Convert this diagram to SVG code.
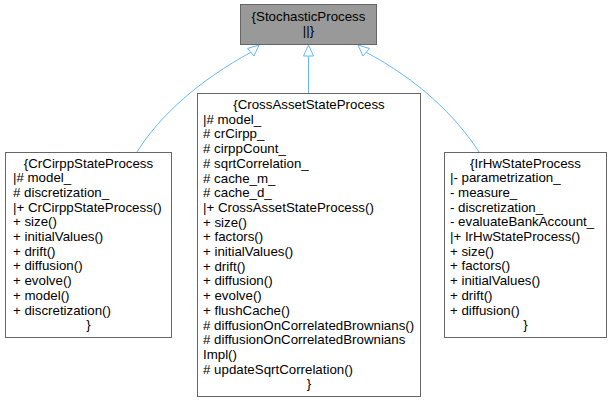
<svg xmlns="http://www.w3.org/2000/svg" width="613" height="403" viewBox="0 0 613 403">
<style>
.box{fill:#ffffff;stroke:#666666;stroke-width:1}
.base{fill:#999999;stroke:#666666;stroke-width:1}
text{font-family:"Liberation Sans",Arial,sans-serif;font-size:13.3px;fill:#000000}
.c{text-anchor:middle}
.edge{fill:none;stroke:#63b8ff;stroke-width:1}
.head{fill:#ffffff;stroke:#63b8ff;stroke-width:1}
</style>
<rect width="613" height="403" fill="#ffffff"/>
<g id="connectors">
<path class="edge" d="M137,152 C160,115 200,80 250.8,52.3"/>
<polygon class="head" points="259,45 254,56 247.5,48.5"/>
<path class="edge" d="M308.5,93 L308.5,56"/>
<polygon class="head" points="308.5,45 303.5,56 313.5,56"/>
<path class="edge" d="M479,152 C455,115 418,80 366.2,52.3"/>
<polygon class="head" points="358,45 369.5,48.5 363,56"/>
</g>
<g id="StochasticProcess">
<rect class="base" x="240.5" y="4.5" width="136" height="40"/>
<text class="c" x="308.5" y="20.5">{StochasticProcess</text>
<text class="c" x="308.5" y="35">||}</text>
</g>
<g id="CrCirppStateProcess">
<rect class="box" x="5.5" y="152.5" width="166" height="185"/>
<text class="c" x="88.5" y="167.5">{CrCirppStateProcess</text>
<text x="13" y="182.2">|# model_</text>
<text x="13" y="196.9"># discretization_</text>
<text x="13" y="211.6">|+ CrCirppStateProcess()</text>
<text x="13" y="226.3">+ size()</text>
<text x="13" y="241">+ initialValues()</text>
<text x="13" y="255.7">+ drift()</text>
<text x="13" y="270.4">+ diffusion()</text>
<text x="13" y="285.1">+ evolve()</text>
<text x="13" y="299.8">+ model()</text>
<text x="13" y="314.5">+ discretization()</text>
<text class="c" x="88.5" y="329.2">}</text>
</g>
<g id="CrossAssetStateProcess">
<rect class="box" x="197.5" y="93.5" width="223" height="303"/>
<text class="c" x="309" y="109">{CrossAssetStateProcess</text>
<text x="203" y="123.7">|# model_</text>
<text x="203" y="138.4"># crCirpp_</text>
<text x="203" y="153.1"># cirppCount_</text>
<text x="203" y="167.8"># sqrtCorrelation_</text>
<text x="203" y="182.5"># cache_m_</text>
<text x="203" y="197.2"># cache_d_</text>
<text x="203" y="211.9">|+ CrossAssetStateProcess()</text>
<text x="203" y="226.6">+ size()</text>
<text x="203" y="241.3">+ factors()</text>
<text x="203" y="256">+ initialValues()</text>
<text x="203" y="270.7">+ drift()</text>
<text x="203" y="285.4">+ diffusion()</text>
<text x="203" y="300.1">+ evolve()</text>
<text x="203" y="314.8">+ flushCache()</text>
<text x="203" y="329.5"># diffusionOnCorrelatedBrownians()</text>
<text x="203" y="344.2"># diffusionOnCorrelatedBrownians</text>
<text x="203" y="358.9">Impl()</text>
<text x="203" y="373.6"># updateSqrtCorrelation()</text>
<text class="c" x="309" y="388.3">}</text>
</g>
<g id="IrHwStateProcess">
<rect class="box" x="444.5" y="152.5" width="162" height="185"/>
<text class="c" x="525.5" y="167.5">{IrHwStateProcess</text>
<text x="450" y="182.2">|- parametrization_</text>
<text x="450" y="196.9">- measure_</text>
<text x="450" y="211.6">- discretization_</text>
<text x="450" y="226.3">- evaluateBankAccount_</text>
<text x="450" y="241">|+ IrHwStateProcess()</text>
<text x="450" y="255.7">+ size()</text>
<text x="450" y="270.4">+ factors()</text>
<text x="450" y="285.1">+ initialValues()</text>
<text x="450" y="299.8">+ drift()</text>
<text x="450" y="314.5">+ diffusion()</text>
<text class="c" x="525.5" y="329.2">}</text>
</g>
</svg>
